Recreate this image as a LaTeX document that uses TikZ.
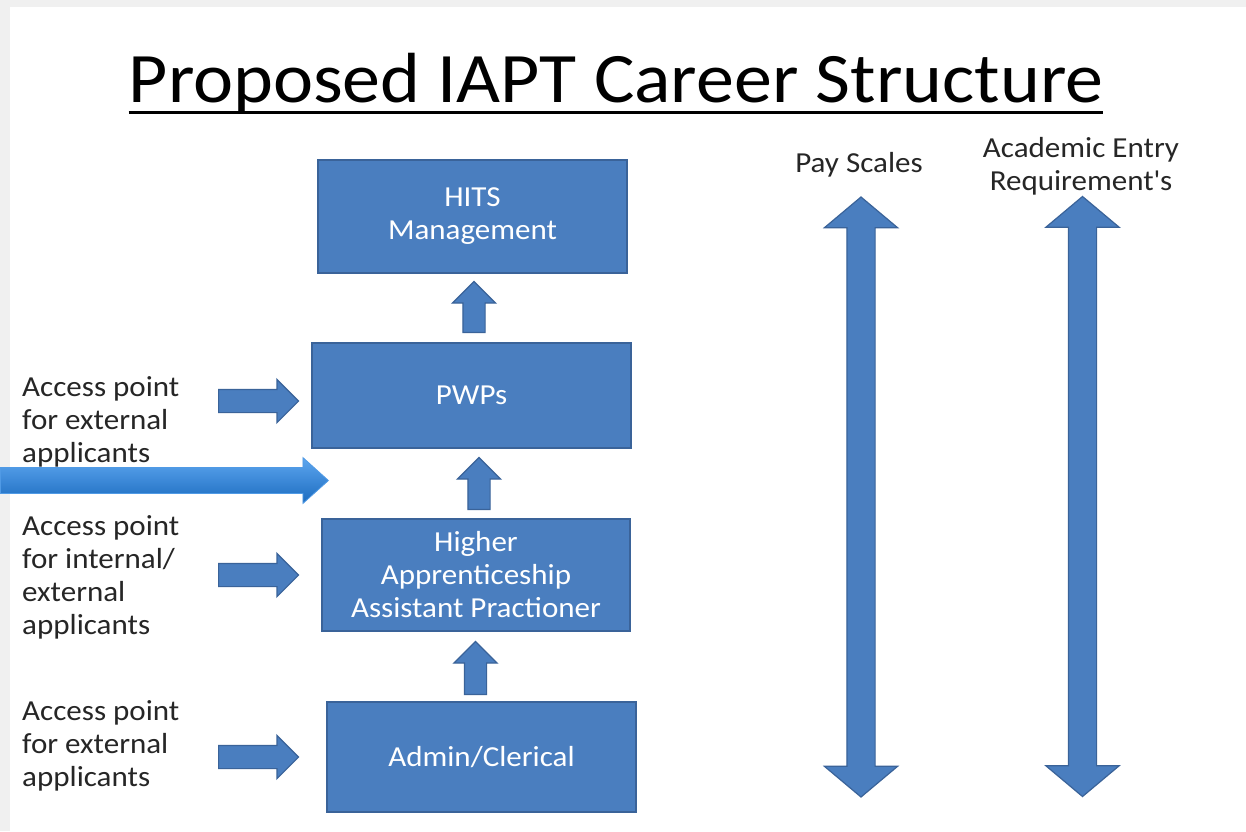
\documentclass[tikz,border=0pt]{standalone}
\usepackage{fontspec}
\setmainfont[FakeStretch=1.07]{Carlito}
\usepackage{tikz}
\usetikzlibrary{shapes,arrows,positioning}

\definecolor{boxblue}{HTML}{4A7EBF}
\definecolor{boxedge}{HTML}{3A6399}
\definecolor{lightarrow}{HTML}{5DA6EE}
\definecolor{darkarrow}{HTML}{1B6BC0}
\definecolor{labelgrey}{HTML}{262626}

\tikzset{
  stage/.style={rectangle,fill=boxblue,draw=boxedge,line width=1.6pt,text=white,
    align=center,font=\fontsize{29}{33}\selectfont,inner sep=0pt},
  uparrow/.style={single arrow,fill=boxblue,draw=boxedge,line width=1.2pt,inner sep=0pt,
    text height=21pt,text depth=0pt,single arrow head extend=10.5,rotate=90,anchor=tail},
  inarrow/.style={single arrow,fill=boxblue,draw=boxedge,line width=1.2pt,inner sep=0pt,
    text height=22pt,text depth=0pt,minimum height=80,single arrow head extend=10,anchor=tail},
  scalearrow/.style={double arrow,fill=boxblue,draw=boxedge,line width=1.2pt,inner sep=0pt,
    text height=27pt,text depth=0pt,minimum height=600,double arrow head extend=22.5,
    double arrow tip angle=100,rotate=90},
  access/.style={align=left,anchor=base west,text=labelgrey,inner sep=0pt,
    font=\fontsize{29}{33}\selectfont},
  heading/.style={align=center,anchor=base,text=labelgrey,inner sep=0pt,
    font=\fontsize{29}{33}\selectfont}
}

\begin{document}
\begin{tikzpicture}[x=1pt,y=-1pt]
    \useasboundingbox (0,0) rectangle (1246,831);

    % Slide background
    \fill[gray!12] (0,0) rectangle (1246,831);
    \fill[white] (10,7) rectangle (1246,831);

    % Title
    \node[anchor=base,inner sep=0pt,font=\fontsize{71}{80}\selectfont] (title) at (616,102) {Proposed IAPT Career Structure};
    \draw[line width=3pt] ([yshift=-10pt]title.base west) -- ([yshift=-10pt]title.base east);

    % Career stages
    \node[stage,minimum width=309,minimum height=113] (hits) at (472.5,216.5) {HITS\\Management};
    \node[stage,minimum width=319,minimum height=105] (pwp) at (471.5,395.5) {PWPs};
    \node[stage,minimum width=308,minimum height=112] (hap) at (476,575) {Higher\\Apprenticeship\\Assistant Practioner};
    \node[stage,minimum width=309,minimum height=110] (admin) at (481.5,757) {Admin/Clerical};

    % Progression arrows
    \node[uparrow,minimum height=51] (up1) at (474,333) {};
    \node[uparrow,minimum height=52] (up2) at (479,510) {};
    \node[uparrow,minimum height=53] (up3) at (475.5,695) {};

    % Access points
    \node[access] (acc1) at (22,462) {Access point\\for external\\applicants};
    \node[access] (acc2) at (22,634) {Access point\\for internal/\\external\\applicants};
    \node[access] (acc3) at (22,786) {Access point\\for external\\applicants};
    \node[inarrow] (in1) at (218,401) {};
    \node[inarrow] (in2) at (218,575) {};
    \node[inarrow] (in3) at (218,757) {};

    % Highlight arrow
    \node[single arrow,top color=lightarrow,bottom color=darkarrow,draw=lightarrow!80!darkarrow,
      line width=0.8pt,inner sep=0pt,text height=25pt,text depth=0pt,minimum height=328,
      single arrow head extend=10,single arrow tip angle=84,anchor=tail] (entry) at (0,480.5) {};

    % Scales
    \node[heading] (pay) at (859,172) {Pay Scales};
    \node[heading] (acad) at (1081,190) {Academic Entry\\Requirement\textquotesingle s};
    \node[scalearrow] (payarrow) at (861,497) {};
    \node[scalearrow] (acadarrow) at (1082.5,496.5) {};
\end{tikzpicture}
\end{document}
